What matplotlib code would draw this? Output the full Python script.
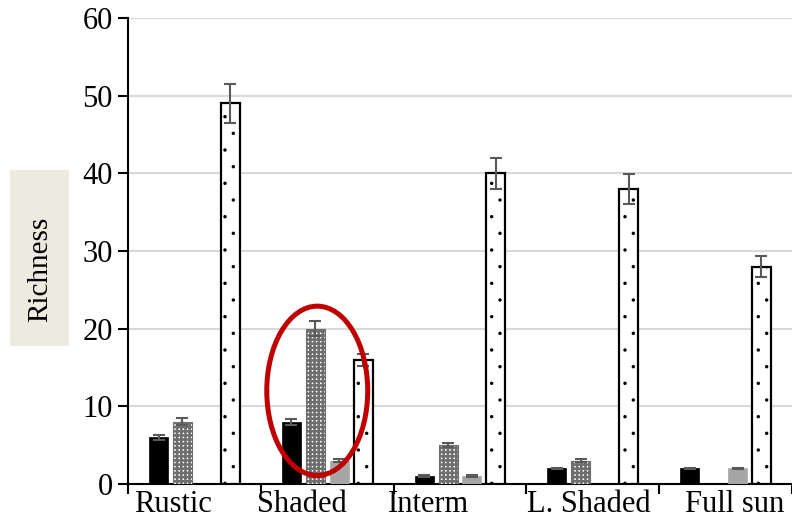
import numpy as np
import matplotlib
matplotlib.use("Agg")
import matplotlib.pyplot as plt
from matplotlib.patches import Ellipse, Rectangle

categories = ["Rustic", "Shaded", "Interm", "L. Shaded", "Full sun"]
black_vals = [6, 8, 1, 2, 2]
black_err = [0.35, 0.4, 0.1, 0.1, 0.1]
checker_vals = [8, 20, 5, 3, np.nan]
checker_err = [0.45, 1.0, 0.3, 0.2, np.nan]
gray_vals = [np.nan, 3, 1, np.nan, 2]
gray_err = [np.nan, 0.2, 0.1, np.nan, 0.1]
dotted_vals = [49, 16, 40, 38, 28]
dotted_err = [2.5, 0.8, 2.0, 1.9, 1.4]
yticks = [0, 10, 20, 30, 40, 50, 60]
label_offsets = [-0.16, -0.19, -0.24, -0.03, 0.07]

plt.rcParams['font.family'] = ['Liberation Serif', 'DejaVu Serif']

fig = plt.figure(figsize=(7.92, 5.27), dpi=100)
ax = fig.add_axes([128/792, 1-484/527, 1-128/792, (484-18)/527])

x = np.arange(len(categories))
bw = 0.143
sp = 0.18
err_kw = dict(ecolor='#595959', elinewidth=1.5, capsize=4.5, capthick=1.5)

ax.bar(x - 1.5*sp, black_vals, bw, color='black', edgecolor='black', linewidth=0.5, zorder=3)
with plt.rc_context({'hatch.linewidth': 1.8}):
    ax.bar(x - 0.5*sp, checker_vals, bw, color='white', edgecolor='#6e6e6e',
           hatch='++++', linewidth=0.8, zorder=3)
ax.bar(x + 0.5*sp, gray_vals, bw, color='#a6a6a6', edgecolor='#a6a6a6', linewidth=0.5, zorder=3)
with plt.rc_context({'hatch.linewidth': 0.05}):
    ax.bar(x + 1.5*sp, dotted_vals, bw, color='white', edgecolor='black',
           hatch='.', linewidth=1.6, zorder=3)

for off, vals, errs in [(-1.5, black_vals, black_err), (-0.5, checker_vals, checker_err),
                        (0.5, gray_vals, gray_err), (1.5, dotted_vals, dotted_err)]:
    ax.errorbar(x + off*sp, vals, yerr=errs, fmt='none', zorder=4, **err_kw)

ax.set_xlim(-0.5, len(categories) - 0.5)
ax.set_ylim(0, 60)
ax.set_yticks(yticks)
ax.set_yticklabels([str(t) for t in yticks], fontsize=22)
ax.yaxis.grid(True, color='#d9d9d9', linewidth=1.5, zorder=0)
ax.set_axisbelow(True)

ax.set_xticks(x + np.array(label_offsets))
ax.set_xticklabels(categories, fontsize=22)
ax.set_xticks(np.arange(len(categories) + 1) - 0.5, minor=True)
ax.tick_params(axis='x', which='major', length=0, pad=4)
ax.tick_params(axis='x', which='minor', length=7, width=1.5, direction='out')
ax.tick_params(axis='y', length=7, width=1.5, direction='out', pad=4)

for s in ['top', 'right']:
    ax.spines[s].set_visible(False)
ax.spines['left'].set_linewidth(1.5)
ax.spines['bottom'].set_linewidth(1.5)

# Richness label box
fig.patches.append(Rectangle((10/792, 1-346/527), 59/792, 176/527, transform=fig.transFigure,
                             facecolor='#edebe0', edgecolor='none', zorder=0))
fig.text(40/792, 1-269/527, "Richness", rotation=90, ha='center', va='center', fontsize=21)

# Red ellipse highlight (Shaded group)
ell = Ellipse((0.925, 12.0), 0.76, 21.8, fill=False, edgecolor='#c00000', linewidth=3.6,
              zorder=5, clip_on=False)
ax.add_patch(ell)

fig.savefig("out.png", dpi=100)
